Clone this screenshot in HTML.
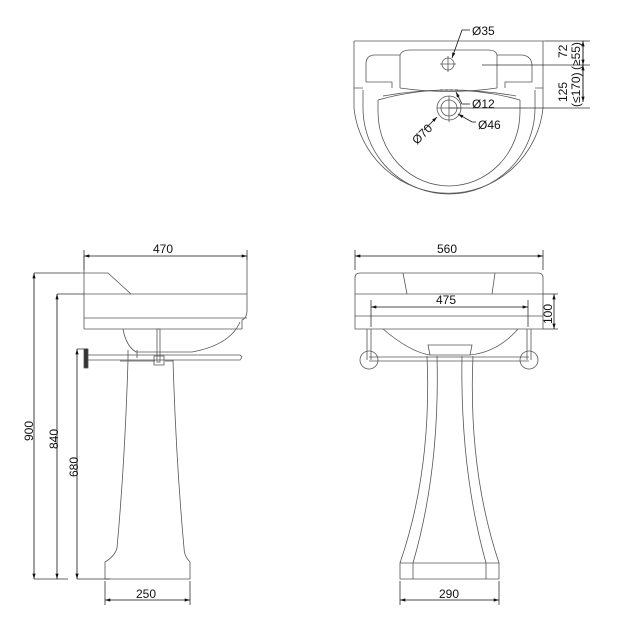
<!DOCTYPE html>
<html><head><meta charset="utf-8"><style>
html,body{margin:0;padding:0;background:#fff;}
svg{display:block;}
text{font-family:"Liberation Sans",sans-serif;font-size:12px;fill:#111;}
</style></head><body>
<svg width="628" height="628" viewBox="0 0 628 628" xmlns="http://www.w3.org/2000/svg">
<defs>
<marker id="a" viewBox="0 0 10 6" refX="10" refY="3" markerWidth="7" markerHeight="4" orient="auto-start-reverse"><path d="M0,0L10,3L0,6z" fill="#111"/></marker>
</defs>
<g fill="none" stroke="#555" stroke-width="0.8">
<path d="M354,41H545 M354,41V108 M543,41V108"/>
<path d="M354,108A95,95 0 0 0 543,108"/>
<path d="M363,90V108A86,86 0 0 0 535,108V90"/>
<path d="M378,100V112A71,74 0 0 0 520,112V100"/>
<path d="M378,100Q449,80 520,100"/>
<path d="M383,96Q449,84 516,96"/>
<path d="M354,88H363 M535,88H543"/>
<path d="M366,82V64Q366,55 375,55H400 M366,82H392V88 M400,55V88 M400,55Q402,50 410,50H488Q496,50 497,55V88 M497,55H522Q532,56 532,66V82H505V88 M400,88Q449,95 497,88"/>
<circle cx="448" cy="64" r="6"/>
<path d="M440,64H456 M448,56V72"/>
<circle cx="449" cy="108" r="12"/>
<circle cx="449" cy="108" r="8"/>
<path d="M437,108H461 M449,96V122"/>
<path d="M449,108H590 M482,65H590 M545,41H590 M583,41V102" stroke="#333"/>
<path d="M440,90H460" stroke-dasharray="3,2" stroke="#222"/>
<path d="M80,273H108L131,294H247 M84,273V329 M84,256V273 M247,256V310Q247,318 242,320V329 M84,329H242 M84,318H247"/>
<path d="M84,294H131" />
<path d="M123,329Q126,346 136,352H192Q230,345 240,322"/>
<path d="M128,350V360 M137,350V358"/>
<path d="M85,355H240Q243,357 240,360H85z"/>
<path d="M84,349H88V368H84z" fill="#333"/>
<path d="M157,329V362H160V329z M154,356H164V365H154z"/>
<path d="M128,360Q125,460 117,548Q115,556 105,562V579H190V562Q184,556 184,548Q176,460 173,360"/>
<path d="M120,361H155 M165,361H173"/>
<path d="M34,273H80 M57,294H84 M77,349H88 M34,579H68 M77,579H110" stroke="#333"/>
<path d="M105,581V605 M190,581V605 M84,250V270 M247,250V260" stroke="#333"/>
<path d="M360,273H538Q543,273 543,278V294H355V278Q355,273 360,273z"/>
<path d="M355,294V329H543V294 M355,316H543"/>
<path d="M403,273L407,294 M495,273L492,294"/>
<path d="M383,329Q410,352 430,355H470Q498,352 518,329"/>
<path d="M430,355L428,345H472L470,355"/>
<path d="M367,329V360 M371,329V360 M527,329V360 M531,329V360"/>
<circle cx="369" cy="360" r="9"/><circle cx="529" cy="360" r="9"/>
<path d="M369,357H529 M369,361H529"/>
<path d="M427,356Q432,470 400,563 M437,356Q440,470 413,563 M473,356Q468,470 499,563 M462,356Q460,470 486,563"/>
<path d="M400,563H499V579H400z M413,563V579 M486,563V579"/>
<path d="M355,250V270 M543,250V270 M371,300V327 M528,300V327 M543,294H558 M543,329H558 M400,581V605 M499,581V605" stroke="#333"/>
</g>
<g stroke="#111" stroke-width="0.8" fill="none">
<path d="M583,41V65" marker-start="url(#a)" marker-end="url(#a)"/>
<path d="M583,65V102" marker-start="url(#a)" marker-end="url(#a)"/>
<path d="M470,30H462L452,58" marker-end="url(#a)"/>
<path d="M470,104H462L456,92" marker-end="url(#a)"/>
<path d="M476,122H472L458,114" marker-end="url(#a)"/>
<path d="M424,130L437,117" marker-end="url(#a)"/>
<path d="M84,256H247" marker-start="url(#a)" marker-end="url(#a)"/>
<path d="M34,273V579" marker-start="url(#a)" marker-end="url(#a)"/>
<path d="M57,294V579" marker-start="url(#a)" marker-end="url(#a)"/>
<path d="M77,349V579" marker-start="url(#a)" marker-end="url(#a)"/>
<path d="M105,600H190" marker-start="url(#a)" marker-end="url(#a)"/>
<path d="M355,256H543" marker-start="url(#a)" marker-end="url(#a)"/>
<path d="M371,307H528" marker-start="url(#a)" marker-end="url(#a)"/>
<path d="M554,294V329" marker-start="url(#a)" marker-end="url(#a)"/>
<path d="M400,600H499" marker-start="url(#a)" marker-end="url(#a)"/>
</g>
<text x="472" y="35">Ø35</text>
<text x="472" y="108">Ø12</text>
<text x="478" y="129">Ø46</text>
<text transform="translate(417,145) rotate(-45)">Ø70</text>
<text transform="translate(567,58) rotate(-90)">72</text>
<text transform="translate(580,70) rotate(-90)">(≥55)</text>
<text transform="translate(567,102) rotate(-90)">125</text>
<text transform="translate(580,107) rotate(-90)">(≤170)</text>
<text x="153" y="253">470</text>
<text x="437" y="253">560</text>
<text x="436" y="304">475</text>
<text transform="translate(552,324) rotate(-90)">100</text>
<text transform="translate(33,441) rotate(-90)">900</text>
<text transform="translate(58,449) rotate(-90)">840</text>
<text transform="translate(78,477) rotate(-90)">680</text>
<text x="136" y="598">250</text>
<text x="439" y="598">290</text>
</svg>
</body></html>
